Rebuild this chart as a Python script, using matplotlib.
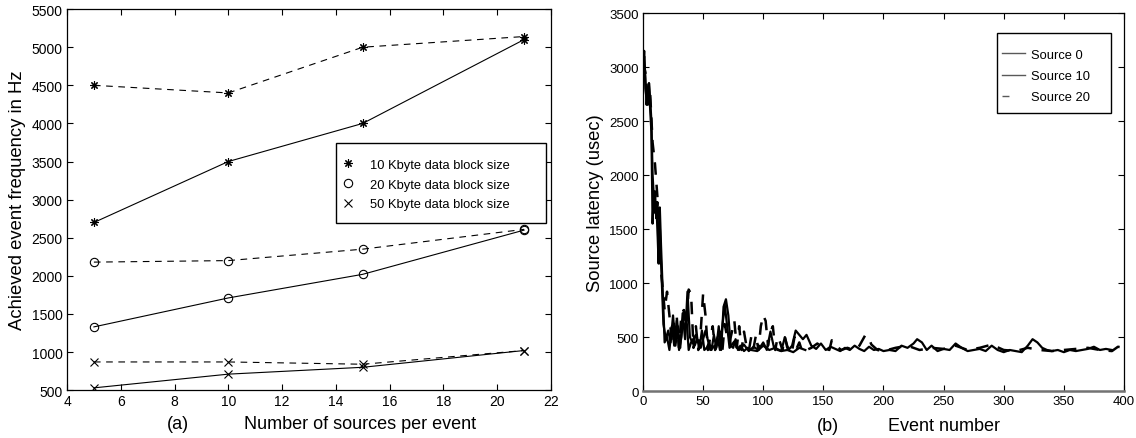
import matplotlib.pyplot as plt
from matplotlib.lines import Line2D
from matplotlib.patches import Rectangle

plt.rcParams['font.family'] = ['Liberation Sans', 'DejaVu Sans']

# panel (a): achieved event frequency
sources = [5, 10, 15, 21]
f10_dash = [4500, 4400, 5000, 5140]
f10_solid = [2700, 3500, 4000, 5100]
f20_dash = [2180, 2200, 2350, 2610]
f20_solid = [1330, 1710, 2020, 2600]
f50_dash = [870, 870, 840, 1020]
f50_solid = [530, 710, 800, 1020]
legend_a = ["10 Kbyte data block size", "20 Kbyte data block size", "50 Kbyte data block size"]

# panel (b): source latency per event
ev0 = [0, 1, 2, 3, 4, 5, 6, 7, 8, 9, 10, 11, 12, 13, 14, 15, 17, 19, 21, 23, 25, 27, 29, 31, 33,
       35, 37, 39, 41, 43, 45, 47, 49, 51, 53, 55, 57, 59, 61, 63, 65, 67, 69, 71, 73, 75, 77, 79,
       81, 84, 87, 90, 95, 100, 105, 110, 115, 120, 125, 130, 135]
lat0 = [3000, 3100, 2900, 2650, 2800, 2850, 2600, 2400, 1550, 1850, 1850, 1600, 1750, 1200, 1400,
        1200, 620, 480, 560, 450, 700, 420, 600, 400, 720, 480, 920, 500, 450, 420, 480, 400, 560,
        380, 400, 450, 380, 520, 400, 600, 380, 780, 850, 700, 420, 400, 480, 380, 420, 370, 400,
        380, 370, 420, 380, 400, 370, 380, 360, 400, 380]

ev10 = [0, 1, 2, 3, 4, 5, 6, 7, 8, 9, 10, 11, 12, 13, 14, 15, 18, 20, 22, 24, 26, 28, 30, 32, 34,
        36, 38, 40, 44, 48, 52, 56, 60, 62, 64, 66, 68, 70, 72, 76, 80, 84, 88, 92, 96, 100, 103,
        106, 109, 112, 115, 118, 121, 124, 127, 130, 133, 136, 140, 144, 148, 152, 156, 160, 164,
        168, 172, 176, 180, 184, 188, 192, 196, 200, 205, 210, 215, 220, 225, 228, 232, 236, 240,
        245, 250, 255, 260, 265, 270, 275, 280, 285, 290, 295, 300, 305, 310, 315, 320, 324, 328,
        332, 336, 340, 345, 350, 355, 360, 365, 370, 375, 380, 385, 390]
lat10 = [2950, 3150, 2800, 2700, 2650, 2850, 2700, 2500, 2000, 1800, 1650, 1750, 1500, 1180, 1700,
         1350, 450, 500, 380, 600, 420, 650, 380, 500, 750, 700, 380, 450, 520, 400, 560, 380, 420,
         500, 380, 600, 800, 600, 400, 460, 380, 430, 370, 410, 380, 450, 380, 550, 400, 380, 370,
         500, 380, 420, 560, 520, 480, 520, 420, 390, 440, 380, 410, 390, 370, 400, 380, 420, 390,
         370, 410, 380, 390, 370, 380, 370, 420, 400, 440, 480, 450, 380, 420, 370, 390, 380, 440,
         400, 370, 380, 390, 370, 420, 380, 360, 380, 370, 360, 420, 480, 450, 400, 380, 370, 380,
         360, 380, 370, 380, 390, 410, 380, 390, 380]

ev20 = [0, 2, 4, 6, 8, 10, 12, 14, 15, 16, 18, 20, 22, 24, 26, 28, 30, 32, 34, 36, 38, 40, 42,
        44, 46, 48, 50, 52, 54, 56, 58, 60, 62, 64, 66, 68, 70, 72, 74, 76, 78, 80, 82, 84, 86, 88,
        90, 92, 94, 96, 98, 100, 102, 104, 106, 108, 110, 112, 114, 116, 118, 120, 122, 124, 126,
        128, 130, 132, 134, 136, 140, 145, 150, 155, 157, 160, 165, 170, 175, 180, 185, 188, 190,
        195, 200, 210, 220, 230, 240, 250, 260, 270, 280, 290, 300, 310, 320, 330, 340, 350, 360,
        370, 380, 390, 395, 400]
lat20 = [3050, 2950, 2700, 2750, 2300, 2100, 1800, 1500, 1100, 1000, 750, 920, 700, 450, 650, 700,
         400, 720, 750, 600, 940, 900, 400, 600, 380, 550, 900, 700, 380, 500, 600, 380, 450, 550,
         370, 620, 500, 450, 550, 650, 400, 600, 380, 550, 420, 370, 500, 400, 520, 380, 600, 700,
         650, 420, 550, 600, 380, 500, 450, 380, 500, 400, 420, 370, 500, 400, 450, 380, 400, 380,
         400, 440, 400, 380, 470, 420, 380, 400, 380, 420, 520, 480, 430, 380, 370, 400, 420, 380,
         400, 390, 420, 380, 400, 430, 380, 370, 400, 380, 370, 380, 390, 400, 380, 370, 410, 400]
legend_b = ["Source 0", "Source 10", "Source 20"]

fig = plt.figure(figsize=(11.36, 4.39), dpi=100)
ax1 = fig.add_axes([0.059, 0.109, 0.426, 0.868])
ax2 = fig.add_axes([0.566, 0.107, 0.4234, 0.861])

# ---- panel (a)
star = (8, 2, 0)  # asterisk like the matlab '*'
dash = (0, (6, 5))
kw = dict(color='black', linewidth=0.8, markersize=6, markeredgewidth=0.8,
          markerfacecolor='none')
ax1.plot(sources, f10_dash, marker=star, linestyle=dash, **kw)
ax1.plot(sources, f10_solid, marker=star, linestyle='-', **kw)
ax1.plot(sources, f20_dash, marker='o', linestyle=dash, **kw)
ax1.plot(sources, f20_solid, marker='o', linestyle='-', **kw)
ax1.plot(sources, f50_dash, marker='x', linestyle=dash, **kw)
ax1.plot(sources, f50_solid, marker='x', linestyle='-', **kw)

ax1.set_xlim(4, 22)
ax1.set_ylim(500, 5500)
ax1.set_xticks(range(4, 23, 2))
ax1.set_yticks(range(500, 5501, 500))

# legend box drawn by hand so the padding matches the original
ax1.add_patch(Rectangle((0.556, 0.438), 0.434, 0.210, transform=ax1.transAxes,
                        facecolor='white', edgecolor='black', linewidth=1.0, zorder=4))
handles_a = [Line2D([], [], color='black', marker=m, linestyle='none', markersize=6,
                    markeredgewidth=0.8, markerfacecolor='none') for m in [star, 'o', 'x']]
leg = ax1.legend(handles_a, legend_a, loc='upper left', bbox_to_anchor=(0.568, 0.607),
                 frameon=False, fontsize=9.3, handlelength=1.0, borderpad=0,
                 labelspacing=0.6, handletextpad=1.16, borderaxespad=0)
leg.set_zorder(5)

ax1.set_ylabel("Achieved event frequency in Hz", fontsize=13.3, labelpad=4)
ax1.text(0.229, -0.088, "(a)", transform=ax1.transAxes, ha='center', va='center', fontsize=13)
ax1.text(0.605, -0.088, "Number of sources per event", transform=ax1.transAxes,
         ha='center', va='center', fontsize=13)

# ---- panel (b)
ax2.plot(ev0, lat0, color='black', linewidth=1.6, linestyle='-')
ax2.plot(ev10, lat10, color='black', linewidth=1.6, linestyle='-')
ax2.plot(ev20, lat20, color='black', linewidth=1.8, linestyle=(0, (5, 4)))

ax2.set_xlim(0, 400)
ax2.set_ylim(0, 3500)
ax2.set_xticks(range(0, 401, 50))
ax2.set_yticks(range(0, 3501, 500))

ax2.add_patch(Rectangle((0.736, 0.735), 0.237, 0.212, transform=ax2.transAxes,
                        facecolor='white', edgecolor='black', linewidth=1.0, zorder=4))
handles_b = [Line2D([], [], color='0.35', linewidth=1.0, linestyle='-'),
             Line2D([], [], color='0.35', linewidth=1.0, linestyle='-'),
             Line2D([], [], color='0.35', linewidth=1.0, linestyle=(0, (5, 30)))]
leg2 = ax2.legend(handles_b, legend_b, loc='upper left', bbox_to_anchor=(0.746, 0.905),
                  frameon=False, fontsize=9.3, handlelength=1.78, borderpad=0,
                  labelspacing=0.7, handletextpad=0.47, borderaxespad=0)
leg2.set_zorder(5)

ax2.set_ylabel("Source latency (usec)", fontsize=13.2, labelpad=4)
ax2.text(0.385, -0.09, "(b)", transform=ax2.transAxes, ha='center', va='center', fontsize=13)
ax2.text(0.626, -0.09, "Event number", transform=ax2.transAxes, ha='center', va='center',
         fontsize=13)

ax1.tick_params(labelsize=10)
ax2.tick_params(labelsize=9.5)
for ax in (ax1, ax2):
    ax.tick_params(direction='in', top=True, right=True, length=4, width=0.8, pad=3)
    for s in ax.spines.values():
        s.set_linewidth(0.9)
ax2.spines['bottom'].set_color('0.45')
ax2.spines['bottom'].set_linewidth(1.8)

fig.savefig("out.png", dpi=100)
